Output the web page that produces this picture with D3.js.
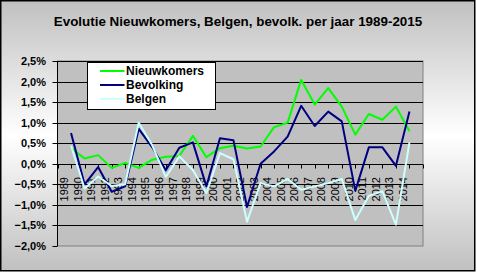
<!DOCTYPE html>
<html>
<head>
<meta charset="utf-8">
<script src="https://cdn.jsdelivr.net/npm/d3@7"></script>
<style>
  body { margin: 0; background: #fff; }
  svg { display: block; font-family: Arial, "Liberation Sans", sans-serif; }
</style>
</head>
<body>
<svg id="chart" width="477" height="272"></svg>
<script>
var title = 'Evolutie Nieuwkomers, Belgen, bevolk. per jaar 1989-2015';

var years = ['1989', '1990', '1991', '1992', '1993', '1994', '1995', '1996', '1997',
  '1998', '1999', '2000', '2001', '2002', '2003', '2004', '2005', '2006', '2007',
  '2008', '2009', '2010', '2011', '2012', '2013', '2014'];

// percentages
var nieuwkomers = [0.38, 0.13, 0.21, -0.10, 0.02, -0.10, 0.10, 0.17, 0.19, 0.68,
  0.16, 0.38, 0.44, 0.37, 0.42, 0.89, 1.00, 2.04, 1.44, 1.84, 1.39, 0.71, 1.21,
  1.07, 1.39, 0.79];
var bevolking = [0.75, -0.50, -0.08, -0.68, -0.55, 0.85, 0.40, -0.16, 0.39, 0.52,
  -0.55, 0.62, 0.57, -1.05, 0.00, 0.30, 0.66, 1.41, 0.92, 1.27, 1.03, -0.66, 0.40,
  0.40, -0.05, 1.27];
var belgen = [0.44, -0.60, -0.31, -0.54, -0.50, 1.00, 0.45, -0.32, 0.18, -0.15,
  -0.71, 0.26, 0.11, -1.41, -0.47, -0.55, -0.37, -0.63, -0.55, -0.47, -0.37, -1.37,
  -0.78, -0.67, -1.48, 0.52];

var yTicks = [2.5, 2.0, 1.5, 1.0, 0.5, 0.0, -0.5, -1.0, -1.5, -2.0];

var series = [
  { name: 'Nieuwkomers', values: nieuwkomers, color: '#00ff00' },
  { name: 'Bevolking', values: bevolking, color: '#000080' },
  { name: 'Belgen', values: belgen, color: '#ccffff' }
];

var svg = d3.select('#chart');
var plot = { left: 57.5, right: 423, top: 61, bottom: 246 };

// background: grey - white - grey
var grad = svg.append('defs').append('linearGradient')
  .attr('id', 'bg').attr('x1', 0).attr('y1', 0).attr('x2', 0).attr('y2', 1);
grad.append('stop').attr('offset', '0%').attr('stop-color', '#c0c0c0');
grad.append('stop').attr('offset', '50%').attr('stop-color', '#ffffff');
grad.append('stop').attr('offset', '100%').attr('stop-color', '#c0c0c0');

svg.append('rect')
  .attr('x', 0.75).attr('y', 0.75).attr('width', 474).attr('height', 270)
  .attr('fill', 'url(#bg)').attr('stroke', '#000').attr('stroke-width', 1.5);

svg.append('text')
  .attr('x', 238).attr('y', 26)
  .attr('text-anchor', 'middle')
  .attr('font-size', '13.4px').attr('font-weight', 'bold')
  .text(title);

// one slot per year plus an empty one at the end
var x = d3.scaleLinear().domain([0, years.length + 1]).range([plot.left, plot.right]);
var y = d3.scaleLinear().domain([-2, 2.5]).range([plot.bottom, plot.top]);

svg.append('rect')
  .attr('x', plot.left).attr('y', plot.top)
  .attr('width', plot.right - plot.left).attr('height', plot.bottom - plot.top)
  .attr('fill', '#c0c0c0').attr('stroke', '#808080').attr('stroke-width', 1);

svg.append('g').selectAll('line')
  .data(yTicks.filter(function (t) { return t > -2; }))
  .join('line')
  .attr('x1', plot.left).attr('x2', plot.right)
  .attr('y1', function (t) { return Math.round(y(t)) + 0.5; })
  .attr('y2', function (t) { return Math.round(y(t)) + 0.5; })
  .attr('stroke', '#000').attr('stroke-width', 1);

// y axis
var yAxis = svg.append('g');
yAxis.append('line')
  .attr('x1', plot.left).attr('x2', plot.left)
  .attr('y1', plot.top).attr('y2', plot.bottom)
  .attr('stroke', '#000');
yAxis.selectAll('line.tick')
  .data(yTicks)
  .join('line')
  .attr('class', 'tick')
  .attr('x1', plot.left - 5).attr('x2', plot.left)
  .attr('y1', function (t) { return Math.round(y(t)) + 0.5; })
  .attr('y2', function (t) { return Math.round(y(t)) + 0.5; })
  .attr('stroke', '#000');
yAxis.selectAll('text')
  .data(yTicks)
  .join('text')
  .attr('x', 46)
  .attr('y', function (t) { return y(t); })
  .attr('dy', '0.36em')
  .attr('text-anchor', 'end')
  .attr('font-size', '11px').attr('font-weight', 'bold')
  .text(function (t) { return d3.format('.1f')(t).replace('.', ',') + '%'; });

// x axis at zero
var y0 = Math.round(y(0)) + 0.5;
var xAxis = svg.append('g');
xAxis.append('line')
  .attr('x1', plot.left).attr('x2', plot.right)
  .attr('y1', y0).attr('y2', y0)
  .attr('stroke', '#000');
xAxis.selectAll('line.tick')
  .data(d3.range(years.length + 2))
  .join('line')
  .attr('class', 'tick')
  .attr('x1', function (k) { return Math.round(x(k)) + 0.5; })
  .attr('x2', function (k) { return Math.round(x(k)) + 0.5; })
  .attr('y1', y0).attr('y2', y0 + 4)
  .attr('stroke', '#000');
xAxis.selectAll('text')
  .data(years)
  .join('text')
  .attr('transform', function (d, i) {
    return 'translate(' + x(i + 0.5) + ',' + 177 + ') rotate(-90)';
  })
  .attr('dy', '0.36em')
  .attr('text-anchor', 'end')
  .attr('font-size', '11px')
  .text(function (d) { return d; });

var line = d3.line()
  .x(function (v, i) { return x(i + 1); })
  .y(function (v) { return y(v); });

svg.append('g').selectAll('path')
  .data(series)
  .join('path')
  .attr('d', function (s) { return line(s.values); })
  .attr('fill', 'none')
  .attr('stroke', function (s) { return s.color; })
  .attr('stroke-width', 2)
  .attr('stroke-linejoin', 'round');

// legend
var legend = svg.append('g').attr('transform', 'translate(87.5, 62.5)');
legend.append('rect')
  .attr('width', 128).attr('height', 47)
  .attr('fill', '#fff').attr('stroke', '#000');
var item = legend.selectAll('g')
  .data(series)
  .join('g')
  .attr('transform', function (s, i) { return 'translate(0,' + (8.5 + i * 14) + ')'; });
item.append('line')
  .attr('x1', 12.5).attr('x2', 37)
  .attr('stroke', function (s) { return s.color; })
  .attr('stroke-width', 2);
item.append('text')
  .attr('x', 38.5).attr('dy', '0.36em')
  .attr('font-size', '12px').attr('font-weight', 'bold')
  .text(function (s) { return s.name; });
</script>
</body>
</html>
